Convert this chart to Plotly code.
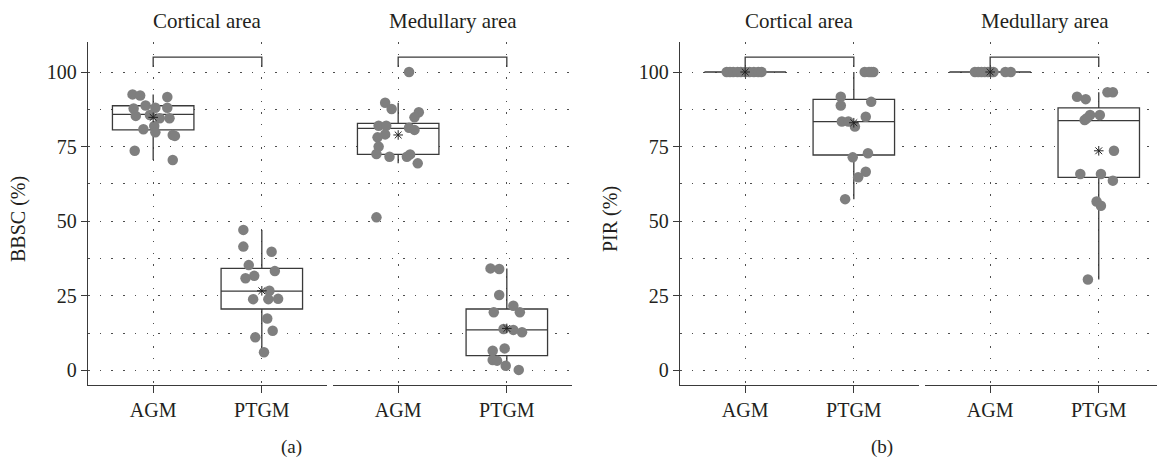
import plotly.graph_objects as go

# ---------------- data ----------------
categories = ["AGM", "PTGM"]
facet_titles = ["Cortical area", "Medullary area"]
y_ticks = [0, 25, 50, 75, 100]
panel_labels = ["(a)", "(b)"]
y_titles = ["BBSC (%)", "PIR (%)"]

# BBSC - cortical
bbsc_cort_agm = [92.5, 92.1, 91.6, 88.8, 87.8, 88.0, 88.0, 85.3, 85.6, 84.5, 84.5, 81.9, 80.8, 79.8, 78.9, 78.6, 73.6, 70.5]
bbsc_cort_agm_jit = [-0.19, -0.12, 0.13, -0.07, -0.18, 0.02, 0.13, -0.16, -0.03, 0.06, 0.15, 0.01, -0.09, 0.02, 0.18, 0.20, -0.17, 0.18]
bbsc_cort_ptgm = [47.1, 41.5, 39.8, 35.3, 33.3, 31.7, 30.9, 26.7, 23.9, 23.9, 24.0, 17.4, 13.3, 11.1, 6.1]
bbsc_cort_ptgm_jit = [-0.17, -0.17, 0.09, -0.12, 0.12, -0.07, -0.15, 0.07, -0.08, 0.06, 0.15, 0.05, 0.10, -0.06, 0.02]
# BBSC - medullary
bbsc_med_agm = [100.0, 89.7, 87.6, 86.5, 84.8, 82.0, 82.0, 81.3, 80.6, 79.1, 78.1, 75.0, 72.5, 71.6, 71.6, 72.4, 69.4, 51.3]
bbsc_med_agm_jit = [0.10, -0.12, -0.06, 0.19, 0.15, -0.18, -0.11, 0.10, 0.15, -0.12, -0.19, -0.18, -0.20, -0.08, 0.08, 0.11, 0.18, -0.20]
bbsc_med_ptgm = [34.2, 34.0, 25.3, 21.7, 19.5, 19.5, 13.9, 13.6, 12.8, 6.6, 7.4, 3.5, 3.3, 1.6, 0.2]
bbsc_med_ptgm_jit = [-0.15, -0.07, -0.07, 0.06, -0.12, 0.12, -0.03, 0.06, 0.14, -0.13, -0.02, -0.13, -0.09, -0.01, 0.11]

# PIR - cortical
pir_cort_agm = [100, 100, 100, 100, 100, 100, 100, 100, 100, 100]
pir_cort_agm_jit = [-0.17, -0.14, -0.11, -0.07, -0.04, 0.0, 0.04, 0.08, 0.12, 0.15]
pir_cort_ptgm = [100, 100, 100, 100, 91.7, 88.8, 90.0, 83.4, 83.4, 81.7, 85.0, 71.4, 72.8, 66.6, 64.7, 57.4]
pir_cort_ptgm_jit = [0.10, 0.18, 0.14, 0.16, -0.12, -0.12, 0.16, -0.11, -0.05, 0.01, 0.11, -0.01, 0.13, 0.11, 0.04, -0.08]
# PIR - medullary
pir_med_agm = [100, 100, 100, 100, 100, 100, 100, 100, 100]
pir_med_agm_jit = [-0.14, -0.11, -0.08, -0.05, -0.02, 0.01, 0.03, 0.14, 0.19]
pir_med_ptgm = [93.2, 93.2, 91.7, 90.9, 85.6, 85.6, 83.9, 84.5, 73.6, 65.8, 65.8, 63.6, 56.6, 55.2, 30.5]
pir_med_ptgm_jit = [0.08, 0.13, -0.20, -0.12, 0.01, -0.08, -0.13, -0.11, 0.14, -0.17, 0.02, 0.13, -0.02, 0.02, -0.10]

# box statistics: [q1, median, q3, lower whisker, upper whisker, mean]
bbsc_cort_agm_stats = [80.6, 85.8, 88.7, 70.5, 92.5, 84.8]
bbsc_cort_ptgm_stats = [20.6, 26.6, 34.2, 6.1, 47.1, 26.7]
bbsc_med_agm_stats = [72.4, 81.1, 82.8, 69.4, 89.7, 78.9]
bbsc_med_ptgm_stats = [5.0, 13.6, 20.6, 0.2, 34.2, 14.1]
pir_cort_agm_stats = [100, 100, 100, 100, 100, 100]
pir_cort_ptgm_stats = [72.2, 83.4, 90.8, 57.4, 100, 83.0]
pir_med_agm_stats = [100, 100, 100, 100, 100, 100]
pir_med_ptgm_stats = [64.7, 83.7, 88.0, 30.5, 93.2, 73.6]

bracket_top = 105
bracket_leg = 101.7

# ---------------- styling ----------------
FONT = "Liberation Serif"
TXT = "#231f20"
AX = "#3a3a3a"
GRID = "#4d4d4d"
PT = "#7f7f7f"
DASH = "1.5px,10.2px"

W, H = 1157, 462
top_px, bot_px = 42, 385
y_range = [-4.86, 110.05]
ydom = [1 - bot_px / H, 1 - top_px / H]

facets = [
    ("x", 88, 327, [-0.6, 1.6]),
    ("x2", 333, 572, [-0.6, 1.6]),
    ("x3", 680, 919, [-0.6, 1.6]),
    ("x4", 925, 1157, [-0.6, -0.6 + (1157 - 925) / 108.6]),
]

groups = [
    ("x", "y", bbsc_cort_agm, bbsc_cort_agm_jit, bbsc_cort_agm_stats, bbsc_cort_ptgm, bbsc_cort_ptgm_jit, bbsc_cort_ptgm_stats),
    ("x2", "y", bbsc_med_agm, bbsc_med_agm_jit, bbsc_med_agm_stats, bbsc_med_ptgm, bbsc_med_ptgm_jit, bbsc_med_ptgm_stats),
    ("x3", "y2", pir_cort_agm, pir_cort_agm_jit, pir_cort_agm_stats, pir_cort_ptgm, pir_cort_ptgm_jit, pir_cort_ptgm_stats),
    ("x4", "y2", pir_med_agm, pir_med_agm_jit, pir_med_agm_stats, pir_med_ptgm, pir_med_ptgm_jit, pir_med_ptgm_stats),
]

fig = go.Figure()

for xa, ya, agm, agm_j, agm_s, ptgm, ptgm_j, ptgm_s in groups:
    fig.add_trace(go.Scatter(
        x=[0, 0, 1, 1], y=[bracket_leg, bracket_top, bracket_top, bracket_leg],
        mode="lines", line=dict(color=AX, width=1.3), xaxis=xa, yaxis=ya,
        hoverinfo="skip", showlegend=False, cliponaxis=False))
    for ci, (vals, jit, st) in enumerate([(agm, agm_j, agm_s), (ptgm, ptgm_j, ptgm_s)]):
        q1, med, q3, lo, hi, mean = st
        fig.add_trace(go.Box(
            x=[ci], q1=[q1], median=[med], q3=[q3], lowerfence=[lo], upperfence=[hi],
            width=0.75, whiskerwidth=0, boxpoints=False,
            fillcolor="white", line=dict(color=AX, width=1.3),
            xaxis=xa, yaxis=ya, showlegend=False, hoverinfo="skip"))
        fig.add_trace(go.Scatter(
            x=[ci + j for j in jit], y=vals, mode="markers",
            marker=dict(color=PT, size=10.5, line=dict(width=0)),
            xaxis=xa, yaxis=ya, showlegend=False, hoverinfo="skip"))
        fig.add_trace(go.Scatter(
            x=[ci], y=[mean], mode="markers",
            marker=dict(symbol="asterisk-open", size=8, color="#222222",
                        line=dict(color="#222222", width=1)),
            xaxis=xa, yaxis=ya, showlegend=False, hoverinfo="skip"))

layout = dict(
    width=W, height=H, margin=dict(l=0, r=0, t=0, b=0),
    paper_bgcolor="white", plot_bgcolor="white", showlegend=False,
    font=dict(family=FONT, color=TXT, size=20),
)

for name, l, r, rng in facets:
    key = "xaxis" if name == "x" else "xaxis" + name[1:]
    layout[key] = dict(
        domain=[l / W, min(r / W, 1.0)], range=rng,
        anchor="y" if name in ("x", "x2") else "y2",
        tickmode="array", tickvals=[0, 1], ticktext=categories,
        showline=True, linecolor=AX, linewidth=1.3,
        ticks="outside", ticklen=7, tickwidth=1.3, tickcolor=AX,
        showgrid=True, gridcolor=GRID, gridwidth=1, griddash=DASH,
        zeroline=False, tickfont=dict(family=FONT, size=20, color=TXT),
        fixedrange=True,
    )

for key, anchor in (("yaxis", "x"), ("yaxis2", "x3")):
    layout[key] = dict(
        domain=ydom, range=y_range, anchor=anchor,
        tickmode="array", tickvals=y_ticks,
        showline=True, linecolor=AX, linewidth=1.3,
        ticks="outside", ticklen=6, tickwidth=1.3, tickcolor=AX,
        showgrid=True, gridcolor=GRID, gridwidth=1, griddash=DASH,
        minor=dict(tickmode="linear", tick0=0, dtick=12.5, showgrid=True,
                   gridcolor=GRID, gridwidth=1, griddash=DASH, ticks=""),
        zeroline=False, tickfont=dict(family=FONT, size=20, color=TXT),
        fixedrange=True,
    )

fig.update_layout(**layout)

facet_centers = [(88 + 327) / 2, (333 + 572) / 2, (680 + 919) / 2, (925 + 1164) / 2]
for i, cx in enumerate(facet_centers):
    fig.add_annotation(text=facet_titles[i % 2], x=cx / W, y=1 - 21 / H,
                       xref="paper", yref="paper", showarrow=False,
                       xanchor="center", yanchor="middle",
                       font=dict(family=FONT, size=21, color=TXT))

for i, cx in enumerate([18, 610]):
    fig.add_annotation(text=y_titles[i], x=cx / W, y=1 - 219 / H,
                       xref="paper", yref="paper", showarrow=False, textangle=-90,
                       xanchor="center", yanchor="middle",
                       font=dict(family=FONT, size=20, color=TXT))

for i, cx in enumerate([291, 882]):
    fig.add_annotation(text=panel_labels[i], x=cx / W, y=1 - 447 / H,
                       xref="paper", yref="paper", showarrow=False,
                       xanchor="center", yanchor="middle",
                       font=dict(family=FONT, size=19, color=TXT))

fig.write_html("out.html", config={"displayModeBar": False},
               post_script="document.body.style.margin='0px';document.body.style.overflow='hidden';")
